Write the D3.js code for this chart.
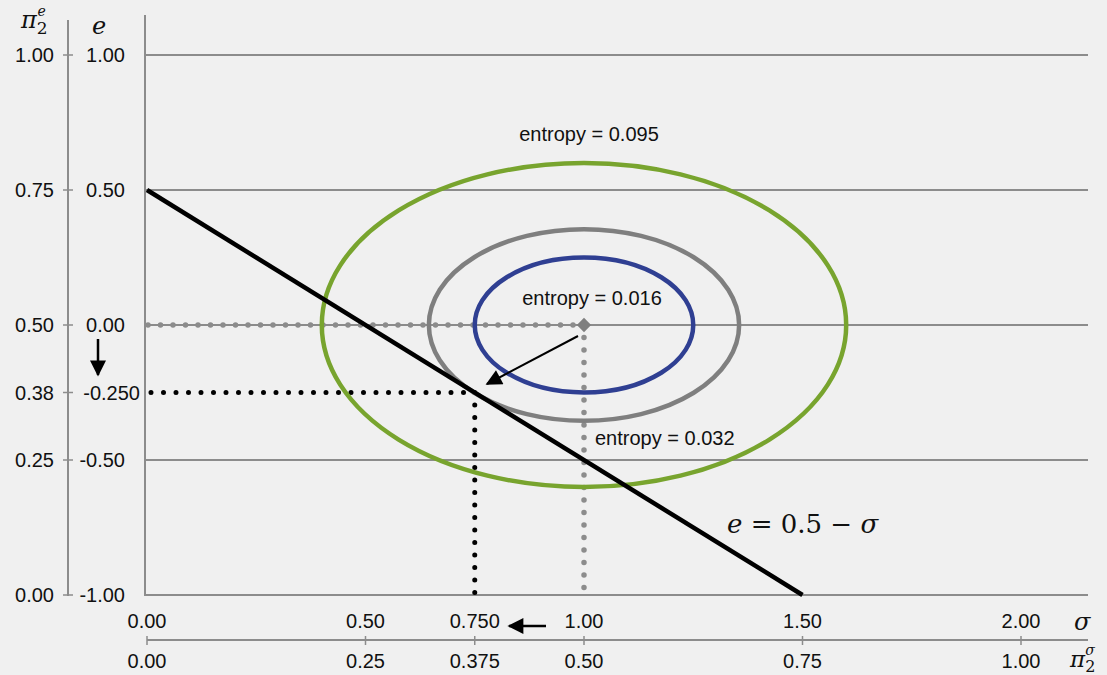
<!DOCTYPE html>
<html>
<head>
<meta charset="utf-8">
<script src="https://cdn.jsdelivr.net/npm/d3@7"></script>
<style>
  body { margin: 0; background: #f0f0f0; }
  text { font-family: "Liberation Sans", Arial, sans-serif; font-size: 20px; fill: #111; }
  .math { font-family: "DejaVu Serif", "Liberation Serif", serif; font-style: italic; }
</style>
</head>
<body>
<svg id="chart" width="1107" height="675"></svg>
<script>
// inner axes (sigma, e)
const eTicks = [1.0, 0.5, 0.0, -0.5, -1.0];
const eTickLabels = ['1.00', '0.50', '0.00', '-0.50', '-1.00'];
const sigmaTicks = [0, 0.5, 0.75, 1.0, 1.5, 2.0];
const sigmaTickLabels = ['0.00', '0.50', '0.750', '1.00', '1.50', '2.00'];
// outer axes (pi2)
const piETicks = [1.0, 0.75, 0.5, 0.375, 0.25, 0.0];
const piETickLabels = ['1.00', '0.75', '0.50', '0.38', '0.25', '0.00'];
const piSigmaTicks = [0, 0.25, 0.375, 0.5, 0.75, 1.0];
const piSigmaTickLabels = ['0.00', '0.25', '0.375', '0.50', '0.75', '1.00'];

// entropy contours, centred at sigma = 1, e = 0
const center = { sigma: 1.0, e: 0.0 };
const contourRadii = [0.6, 0.355, 0.25];
const contourColors = ['#78a42e', '#7f7f7f', '#2f3f92'];
const contourLabels = ['entropy = 0.095', 'entropy = 0.032', 'entropy = 0.016'];

// constraint line e = 0.5 - sigma
const constraint = [{ sigma: 0, e: 0.5 }, { sigma: 1.5, e: -1.0 }];
const optimum = { sigma: 0.75, e: -0.25 };

const svg = d3.select('#chart');

const x = d3.scaleLinear().domain([0, 2]).range([147, 1021]);
const y = d3.scaleLinear().domain([-1, 1]).range([595, 55]);
const xPi = d3.scaleLinear().domain([0, 1]).range([147, 1021]);
const yPi = d3.scaleLinear().domain([0, 1]).range([595, 55]);

const grid = '#8c8c8c';

// horizontal gridlines
svg.append('g').selectAll('line')
  .data(eTicks.filter(d => d !== -1))
  .join('line')
    .attr('x1', 145).attr('x2', 1088)
    .attr('y1', d => y(d)).attr('y2', d => y(d))
    .attr('stroke', grid).attr('stroke-width', 2);

// inner axes
svg.append('line').attr('x1', 145).attr('x2', 145).attr('y1', 15).attr('y2', 595)
  .attr('stroke', grid).attr('stroke-width', 2);
svg.append('line').attr('x1', 144).attr('x2', 1088).attr('y1', 595).attr('y2', 595)
  .attr('stroke', grid).attr('stroke-width', 2);

// outer pi axes
svg.append('line').attr('x1', 68).attr('x2', 68).attr('y1', 20).attr('y2', 596)
  .attr('stroke', grid).attr('stroke-width', 2);
svg.append('g').selectAll('line')
  .data(piETicks)
  .join('line')
    .attr('x1', 63).attr('x2', 73)
    .attr('y1', d => yPi(d)).attr('y2', d => yPi(d))
    .attr('stroke', grid).attr('stroke-width', 1.5);
svg.append('g').selectAll('text')
  .data(piETicks)
  .join('text')
    .attr('x', 54).attr('y', d => yPi(d))
    .attr('dy', '0.35em').attr('text-anchor', 'end')
    .text((d, i) => piETickLabels[i]);

svg.append('line').attr('x1', 147).attr('x2', 1088).attr('y1', 640).attr('y2', 640)
  .attr('stroke', grid).attr('stroke-width', 2);
svg.append('g').selectAll('line')
  .data(piSigmaTicks)
  .join('line')
    .attr('x1', d => xPi(d)).attr('x2', d => xPi(d))
    .attr('y1', 636).attr('y2', 645)
    .attr('stroke', grid).attr('stroke-width', 1.5);
svg.append('g').selectAll('text')
  .data(piSigmaTicks)
  .join('text')
    .attr('x', d => xPi(d)).attr('y', 661)
    .attr('dy', '0.35em').attr('text-anchor', 'middle')
    .text((d, i) => piSigmaTickLabels[i]);

// inner tick labels
svg.append('g').selectAll('text')
  .data(eTicks)
  .join('text')
    .attr('x', 125).attr('y', d => y(d))
    .attr('dy', '0.35em').attr('text-anchor', 'end')
    .text((d, i) => eTickLabels[i]);
svg.append('text')
  .attr('x', 140).attr('y', y(optimum.e))
  .attr('dy', '0.35em').attr('text-anchor', 'end')
  .text('-0.250');
svg.append('g').selectAll('text')
  .data(sigmaTicks)
  .join('text')
    .attr('x', d => x(d)).attr('y', 621)
    .attr('dy', '0.35em').attr('text-anchor', 'middle')
    .text((d, i) => sigmaTickLabels[i]);

// axis titles
const t1 = svg.append('text').attr('class', 'math').attr('x', 21).attr('y', 28).style('font-size', '24px');
t1.append('tspan').text('π');
t1.append('tspan').attr('dy', 6).style('font-size', '17px').style('font-style', 'normal').text('2');
t1.append('tspan').attr('dx', -10).attr('dy', -18).style('font-size', '14px').text('e');
svg.append('text').attr('class', 'math').attr('x', 92).attr('y', 34).style('font-size', '24px').text('e');
svg.append('text').attr('class', 'math').attr('x', 1074).attr('y', 630).style('font-size', '24px').text('σ');
const t2 = svg.append('text').attr('class', 'math').attr('x', 1070).attr('y', 667).style('font-size', '23px');
t2.append('tspan').text('π');
t2.append('tspan').attr('dy', 5).style('font-size', '16px').style('font-style', 'normal').text('2');
t2.append('tspan').attr('dx', -10).attr('dy', -17).style('font-size', '14px').text('σ');

// gray dotted guides to the unconstrained optimum
const dotsGray = { stroke: '#8c8c8c', 'stroke-width': 5.5, 'stroke-linecap': 'round', 'stroke-dasharray': '0 12.5' };
const gH = svg.append('line')
  .attr('x1', x(0) + 1).attr('x2', x(center.sigma)).attr('y1', y(center.e)).attr('y2', y(center.e));
const gV = svg.append('line')
  .attr('x1', x(center.sigma)).attr('x2', x(center.sigma)).attr('y1', y(center.e)).attr('y2', y(-1) - 4);
[gH, gV].forEach(l => Object.entries(dotsGray).forEach(([k, v]) => l.attr(k, v)));

// black dotted guides to the constrained optimum
const dotsBlack = { stroke: '#000', 'stroke-width': 5, 'stroke-linecap': 'round', 'stroke-dasharray': '0 12.5' };
const bH = svg.append('line')
  .attr('x1', x(0) + 4).attr('x2', x(optimum.sigma)).attr('y1', y(optimum.e)).attr('y2', y(optimum.e));
const bV = svg.append('line')
  .attr('x1', x(optimum.sigma)).attr('x2', x(optimum.sigma)).attr('y1', y(optimum.e)).attr('y2', y(-1) - 2);
[bH, bV].forEach(l => Object.entries(dotsBlack).forEach(([k, v]) => l.attr(k, v)));

// entropy contours
svg.append('g').selectAll('ellipse')
  .data(contourRadii)
  .join('ellipse')
    .attr('cx', x(center.sigma)).attr('cy', y(center.e))
    .attr('rx', d => x(center.sigma + d) - x(center.sigma))
    .attr('ry', d => y(center.e - d) - y(center.e))
    .attr('fill', 'none')
    .attr('stroke', (d, i) => contourColors[i])
    .attr('stroke-width', 4.5);

// constraint line
svg.append('path')
  .datum(constraint)
  .attr('d', d3.line().x(d => x(d.sigma)).y(d => y(d.e)))
  .attr('stroke', '#000').attr('stroke-width', 4.5).attr('fill', 'none');

// centre marker
svg.append('path')
  .attr('d', d3.symbol(d3.symbolDiamond2, 130)())
  .attr('transform', `translate(${x(center.sigma)},${y(center.e)})`)
  .attr('fill', '#7f7f7f');

// arrow heads
const defs = svg.append('defs');
defs.append('marker').attr('id', 'bighead')
  .attr('viewBox', '0 0 10 10').attr('refX', 9).attr('refY', 5)
  .attr('markerWidth', 20).attr('markerHeight', 16).attr('markerUnits', 'userSpaceOnUse')
  .attr('orient', 'auto')
  .append('path').attr('d', 'M0,0 L10,5 L0,10 Z').attr('fill', '#000');

svg.append('line')
  .attr('x1', 578).attr('y1', 336).attr('x2', 487).attr('y2', 384)
  .attr('stroke', '#000').attr('stroke-width', 2).attr('marker-end', 'url(#bighead)');
svg.append('line')
  .attr('x1', 98).attr('y1', 339).attr('x2', 98).attr('y2', 375)
  .attr('stroke', '#000').attr('stroke-width', 2.5).attr('marker-end', 'url(#bighead)');
svg.append('line')
  .attr('x1', 546).attr('y1', 626).attr('x2', 509).attr('y2', 626)
  .attr('stroke', '#000').attr('stroke-width', 2.5).attr('marker-end', 'url(#bighead)');

// labels
svg.append('text').attr('x', 589).attr('y', 134).attr('dy', '0.35em').attr('text-anchor', 'middle').text(contourLabels[0]);
svg.append('text').attr('x', 595).attr('y', 438).attr('dy', '0.35em').text(contourLabels[1]);
svg.append('text').attr('x', 592).attr('y', 298).attr('dy', '0.35em').attr('text-anchor', 'middle').text(contourLabels[2]);

const eq = svg.append('text').attr('x', 727).attr('y', 533)
  .style('font-family', '"DejaVu Serif", "Liberation Serif", serif').style('font-size', '26px');
eq.append('tspan').style('font-style', 'italic').text('e');
eq.append('tspan').text(' = 0.5 − ');
eq.append('tspan').style('font-style', 'italic').text('σ');
</script>
</body>
</html>
